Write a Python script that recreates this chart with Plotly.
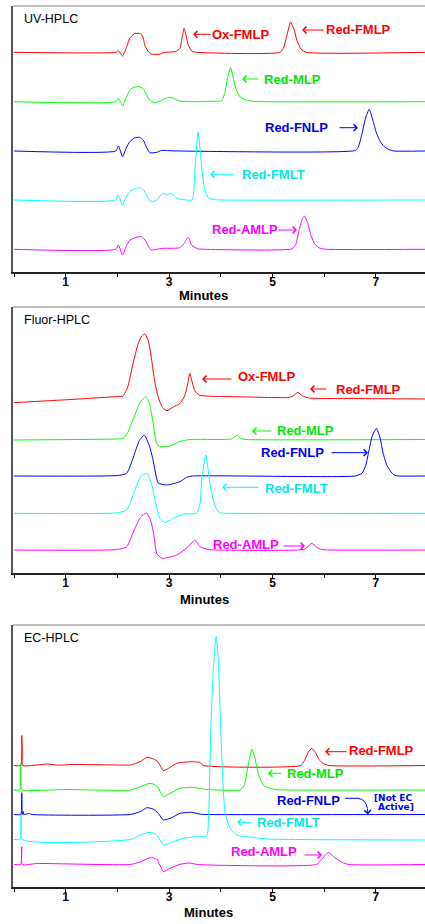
import plotly.graph_objects as go

W, H = 425, 924

# ---------------- data (time in minutes, signal above each trace's own baseline, arb. units) ----------------
TRACE_NAMES = ["Red-FMLP", "Red-MLP", "Red-FNLP", "Red-FMLT", "Red-AMLP"]

# UV-HPLC
UV_RED_T = [0.00, 1.97, 2.02, 2.10, 2.17, 2.24, 2.32, 2.40, 2.46, 2.50, 2.53, 2.59, 2.65, 2.82, 2.90, 3.02, 3.13, 3.21, 3.25, 3.29, 3.33, 3.37, 3.44, 3.54, 5.15, 5.22, 5.28, 5.35, 5.42, 5.47, 5.55, 5.65, 7.95]
UV_RED_S = [0, 0, 1.6, -3.7, 4.3, 14, 18.3, 19, 18.3, 14.3, 7.3, 1.3, -1.7, -2, -0.2, 0.3, 0.8, 4, 14.3, 24, 16.3, 7.3, 1.3, 0, 0, 5.3, 17.3, 30.3, 22.3, 12.3, 3.3, 0, 0]
UV_GREEN_T = [0.00, 1.97, 2.02, 2.10, 2.17, 2.24, 2.32, 2.42, 2.50, 2.55, 2.62, 2.72, 2.80, 2.92, 3.02, 3.12, 3.21, 3.50, 3.75, 3.96, 4.02, 4.08, 4.13, 4.19, 4.25, 4.30, 4.37, 4.50, 4.65, 7.95]
UV_GREEN_S = [0, 0, 3.4, -4.3, 4, 11.7, 14.5, 15, 13, 8, 1.7, -1, 0, 3, 4.4, 2.5, 0.5, 0, 0.3, 0.5, 1, 9, 24, 34, 22, 12, 5, 1.5, 0.3, 0]
UV_BLUE_T = [0.00, 1.97, 2.02, 2.10, 2.17, 2.24, 2.33, 2.43, 2.50, 2.56, 2.63, 2.75, 2.85, 3.00, 3.20, 6.60, 6.66, 6.73, 6.80, 6.87, 6.94, 7.01, 7.08, 7.16, 7.25, 7.35, 7.95]
UV_BLUE_S = [0, 0, 5, -5.7, 3, 9.3, 13, 13.7, 11, 4, -1.7, -1.5, 0.5, 0.3, 0, 0.5, 4, 17, 33, 41.7, 31, 18, 10, 4.5, 1.5, 0, 0]
UV_CYAN_T = [0.00, 1.97, 2.02, 2.10, 2.17, 2.24, 2.35, 2.45, 2.52, 2.58, 2.65, 2.75, 2.84, 2.89, 2.95, 3.02, 3.10, 3.20, 3.44, 3.47, 3.50, 3.56, 3.60, 3.63, 3.69, 3.75, 3.85, 4.00, 7.95]
UV_CYAN_S = [0, 0, 5, -5, 3, 8.5, 11.5, 12.3, 9, 3, -1.7, -0.5, 5, 6.7, 5, 6.7, 4, 1, 0, 5, 30, 68.3, 50, 33, 10, 3, 0.5, 0, 0]
UV_MAGENTA_T = [0.00, 1.97, 2.02, 2.10, 2.17, 2.24, 2.36, 2.47, 2.55, 2.65, 2.80, 2.90, 3.05, 3.20, 3.28, 3.37, 3.44, 3.55, 3.70, 5.38, 5.45, 5.52, 5.58, 5.62, 5.68, 5.75, 5.82, 5.92, 6.05, 7.95]
UV_MAGENTA_S = [0, 0, 4.3, -5.7, 3, 9, 12, 12.6, 8, -0.7, 0.5, 1, 1, 1.5, 5, 12, 4, 0.5, 0, 0.5, 5, 20, 31, 33.3, 26, 13, 5, 1, 0, 0]

# Fluor-HPLC
FL_RED_T = [0.00, 0.50, 1.00, 1.50, 2.00, 2.11, 2.20, 2.30, 2.40, 2.47, 2.53, 2.60, 2.66, 2.72, 2.80, 2.88, 2.96, 3.08, 3.21, 3.30, 3.36, 3.40, 3.45, 3.50, 3.58, 3.70, 4.00, 4.50, 5.30, 5.40, 5.49, 5.58, 5.70, 6.50, 7.95]
FL_RED_S = [-3.7, -2.2, -0.8, 0.8, 2.5, 3, 12, 35, 55, 63, 65, 58, 40, 18, 0, -9, -11.7, -8, -4.5, 3, 15, 25.7, 16, 8, 4, 3, 2.5, 2, 1.5, 3, 6.7, 3, 1, 0.5, 0]
FL_GREEN_T = [0.00, 2.00, 2.11, 2.20, 2.31, 2.44, 2.55, 2.62, 2.68, 2.76, 2.82, 3.02, 3.21, 3.40, 4.20, 4.27, 4.32, 4.38, 4.50, 7.95]
FL_GREEN_S = [-0.5, 0.5, 1, 7, 21, 37, 43, 36, 20, -4, -7, -6.5, -2, 0, 0.5, 3, 4.5, 1, 0, 0]
FL_BLUE_T = [0.00, 2.00, 2.18, 2.31, 2.42, 2.52, 2.62, 2.69, 2.79, 2.95, 3.21, 3.34, 3.45, 6.60, 6.73, 6.80, 6.86, 6.93, 7.01, 7.08, 7.14, 7.21, 7.28, 7.35, 7.45, 7.95]
FL_BLUE_S = [0, 0.5, 2.7, 19, 35, 41, 30, 16, -7, -9, -5.7, -1.3, 0, 0, 2.7, 10, 24, 40, 47.7, 38, 22.7, 11, 5, 1, 0, 0]
FL_CYAN_T = [0.00, 2.00, 2.18, 2.34, 2.45, 2.57, 2.66, 2.70, 2.82, 2.92, 3.08, 3.28, 3.53, 3.60, 3.63, 3.71, 3.79, 3.89, 3.98, 4.20, 7.95]
FL_CYAN_S = [0, 0.5, 3.3, 23.3, 37, 40, 30, 20, -5, -9.4, -5, -0.7, 0, 10, 33.3, 58.3, 30, 6.6, 0.6, 0, 0]
FL_MAGENTA_T = [0.00, 2.00, 2.18, 2.34, 2.45, 2.56, 2.64, 2.70, 2.76, 2.86, 3.15, 3.37, 3.50, 3.60, 3.75, 3.90, 5.60, 5.68, 5.76, 5.85, 5.95, 6.10, 7.95]
FL_MAGENTA_S = [0, 0.5, 3.3, 21.7, 33, 37, 30, 16.7, -3.3, -8.3, -5, 3.3, 10, 3.3, 0.5, 0, 0.5, 3, 6.7, 3, 0.5, 0, 0]

# EC-HPLC
EC_RED_T = [0.00, 0.13, 0.15, 0.16, 0.17, 0.63, 0.86, 1.10, 2.00, 2.25, 2.44, 2.57, 2.70, 2.78, 2.89, 2.99, 3.15, 3.40, 3.60, 3.66, 5.55, 5.62, 5.69, 5.76, 5.83, 5.90, 5.98, 6.10, 7.95]
EC_RED_S = [0, 0, 30, 12, 0, 1.5, 0.3, 1, 0.5, 0.5, 3.8, 8.2, 6.5, 4, -5.2, -2.8, 2.2, 3.8, 3, 0, 0, 5, 13, 17.2, 13, 6, 2, 0, 0]
EC_GREEN_T = [0.00, 0.11, 0.13, 0.14, 0.16, 1.00, 2.25, 2.44, 2.63, 2.76, 2.89, 3.02, 3.21, 3.47, 3.63, 4.37, 4.45, 4.53, 4.60, 4.66, 4.72, 4.82, 4.95, 5.10, 5.30, 7.95]
EC_GREEN_S = [0, 0, 26, 3, 0, 0.5, 0, 3.3, 6.7, 4.3, -6.7, -3.3, 1.7, 2.7, 1, 0, 4, 25, 40.7, 32, 17, 5, 1.7, 0.3, 0, 0]
EC_BLUE_T = [0.00, 0.13, 0.15, 0.16, 0.18, 0.19, 0.20, 0.30, 0.35, 2.25, 2.44, 2.57, 2.69, 2.79, 2.89, 3.05, 3.21, 3.44, 3.60, 3.70, 7.95]
EC_BLUE_S = [0, 0, 21.8, 0, 3, 0, 0, 1, 0, 0, 2.8, 6.8, 5.5, 1.2, -5.5, -3.2, 1.2, 2.2, 0.3, 0, 0]
EC_CYAN_T = [0.00, 0.12, 0.14, 0.16, 2.25, 2.44, 2.63, 2.76, 2.89, 3.08, 3.27, 3.53, 3.73, 3.76, 3.81, 3.86, 3.91, 3.95, 3.99, 4.02, 4.08, 4.18, 4.31, 4.56, 4.90, 7.95]
EC_CYAN_S = [0, 0, 25, 0, 0, 4.5, 7.2, 4.5, -5.5, -2.2, 1.2, 2.8, 3.5, 17.8, 114.5, 175, 203, 181, 125, 81, 28, 11, 4.5, 2.5, 0.5, -0.5]
EC_MAGENTA_T = [0.00, 0.13, 0.15, 0.16, 0.44, 2.25, 2.44, 2.63, 2.76, 2.89, 3.02, 3.21, 3.40, 3.55, 5.85, 5.95, 6.08, 6.20, 6.35, 6.48, 7.95]
EC_MAGENTA_S = [0, 0, 17.8, 0, 1, 0, 2.5, 6.8, 5.5, -7.2, -3.8, 0.2, 1.5, 0, 0, 5, 12.2, 7, 2, 0, 0]

# stacking offsets of the five chromatograms in each panel (red, green, blue, cyan, magenta)
UV_OFFSETS = [219.7, 170.3, 121.0, 72.0, 22.7]
FL_OFFSETS = [174.0, 133.5, 97.0, 59.7, 23.0]
EC_OFFSETS = [121.5, 97.0, 72.5, 47.5, 22.5]

X_TICKS = [0, 1, 2, 3, 4, 5, 6, 7]
X_TICK_TEXT = ["", "1", "", "3", "", "5", "", "7"]

PANEL_TITLES = ["UV-HPLC", "Fluor-HPLC", "EC-HPLC"]

# ---------------- styling ----------------
LINE_COLORS = ["#ff0000", "#00ff00", "#0000ff", "#00ffff", "#ff00ff"]
TEXT_COLORS = ["#ff0000", "#00e600", "#0000ee", "#00e8e8", "#ff00ff"]
FONT = "Liberation Sans, Arial, sans-serif"

# panel pixel frames (top, bottom)
PANELS = [(6, 272), (307, 573), (625, 887)]
LEFT_PX = 13
X_RANGE = [(LEFT_PX - 14) / 51.7, (W - 14) / 51.7]


def px(x, y):
    return x / W, 1 - y / H


panel_data = [
    ([(UV_RED_T, UV_RED_S), (UV_GREEN_T, UV_GREEN_S), (UV_BLUE_T, UV_BLUE_S), (UV_CYAN_T, UV_CYAN_S), (UV_MAGENTA_T, UV_MAGENTA_S)], UV_OFFSETS),
    ([(FL_RED_T, FL_RED_S), (FL_GREEN_T, FL_GREEN_S), (FL_BLUE_T, FL_BLUE_S), (FL_CYAN_T, FL_CYAN_S), (FL_MAGENTA_T, FL_MAGENTA_S)], FL_OFFSETS),
    ([(EC_RED_T, EC_RED_S), (EC_GREEN_T, EC_GREEN_S), (EC_BLUE_T, EC_BLUE_S), (EC_CYAN_T, EC_CYAN_S), (EC_MAGENTA_T, EC_MAGENTA_S)], EC_OFFSETS),
]

fig = go.Figure()
layout = dict(
    width=W, height=H, autosize=False,
    margin=dict(l=0, r=0, t=0, b=0),
    paper_bgcolor="white", plot_bgcolor="white",
    showlegend=False,
)
shapes = []
annotations = []

for i, ((series, offsets), (top, bot)) in enumerate(zip(panel_data, PANELS)):
    k = "" if i == 0 else str(i + 1)
    for j, ((t, s), off) in enumerate(zip(series, offsets)):
        fig.add_trace(go.Scatter(
            x=t, y=[v + off for v in s], mode="lines", name=TRACE_NAMES[j],
            line=dict(color=LINE_COLORS[j], width=1, shape="spline", smoothing=0.5),
            xaxis="x" + k, yaxis="y" + k, hoverinfo="skip",
        ))
    layout["xaxis" + k] = dict(
        domain=[LEFT_PX / W, 1], anchor="y" + k, range=X_RANGE,
        tickvals=X_TICKS, ticktext=X_TICK_TEXT, ticks="outside", ticklen=3,
        tickcolor="#000", tickwidth=1, showline=True, linecolor="#222", linewidth=1.5,
        showgrid=False, zeroline=False, fixedrange=True, ticklabelstandoff=-5,
        tickfont=dict(family=FONT, size=12, color="#000", weight="bold"),
    )
    layout["yaxis" + k] = dict(
        domain=[1 - bot / H, 1 - top / H], anchor="x" + k, range=[0, bot - top],
        showline=True, linecolor="#555", linewidth=1.5, showticklabels=False,
        ticks="", showgrid=False, zeroline=False, fixedrange=True,
    )
    # top frame line
    x0, y0 = px(LEFT_PX, top)
    shapes.append(dict(type="line", xref="paper", yref="paper", x0=x0, x1=1, y0=y0, y1=y0,
                       line=dict(color="#808080", width=1)))
    # panel title
    tx, ty = px(21.5, top + 13)
    annotations.append(dict(text=PANEL_TITLES[i], x=tx, y=ty, xref="paper", yref="paper",
                            xanchor="left", yanchor="middle", showarrow=False,
                            font=dict(family=FONT, size=12.5, color="#000")))

# "Minutes" axis titles
for (mx, my) in [(203, 295), (204, 599.5), (208, 912)]:
    x, y = px(mx, my)
    annotations.append(dict(text="Minutes", x=x, y=y, xref="paper", yref="paper",
                            xanchor="center", yanchor="middle", showarrow=False,
                            font=dict(family=FONT, size=13, color="#000", weight="bold")))

# peak labels: (text, center x px, center y px, color index)
LABELS = [
    ("Ox-FMLP", 240.5, 34.3, 0), ("Red-FMLP", 358.5, 30, 0), ("Red-MLP", 292.5, 79, 1),
    ("Red-FNLP", 296, 127.7, 2), ("Red-FMLT", 273, 174.3, 3), ("Red-AMLP", 245, 229, 4),
    ("Ox-FMLP", 266.5, 376.7, 0), ("Red-FMLP", 368.5, 389, 0), ("Red-MLP", 305.5, 430.7, 1),
    ("Red-FNLP", 292.5, 452.7, 2), ("Red-FMLT", 296, 488.3, 3), ("Red-AMLP", 246.5, 544, 4),
    ("Red-FMLP", 381.5, 750, 0), ("Red-MLP", 315, 773.3, 1), ("Red-FNLP", 308.5, 800, 2),
    ("Red-FMLT", 288.5, 822.3, 3), ("Red-AMLP", 263.5, 851.7, 4),
]
for text, lx, ly, c in LABELS:
    x, y = px(lx, ly)
    annotations.append(dict(text=text, x=x, y=y, xref="paper", yref="paper",
                            xanchor="center", yanchor="middle", showarrow=False,
                            font=dict(family=FONT, size=13, color=TEXT_COLORS[c], weight="bold")))

# arrows: (tail x, tail y, head x, head y, color index)
ARROWS = [
    (212, 34.3, 193, 34.3, 0), (325, 30, 302, 30, 0), (260, 79, 242, 79, 1),
    (338, 127.7, 358, 127.7, 2), (235, 174.3, 210, 174.3, 3), (277, 230, 297, 230, 4),
    (233, 379, 202, 379, 0), (328, 389, 310, 389, 0), (273, 431, 252, 431, 1),
    (330, 452.7, 368, 452.7, 2), (260, 487.3, 222, 487.3, 3), (282, 546, 305, 546, 4),
    (348, 751.7, 325, 751.7, 0), (283, 773.3, 268, 773.3, 1),
    (253, 822.3, 237, 822.3, 3), (303, 855, 322, 855, 4),
    (367.3, 807, 368, 814.5, 2),
]
for x0p, y0p, x1p, y1p, c in ARROWS:
    x, y = px(x1p, y1p)
    annotations.append(dict(text="", x=x, y=y, xref="paper", yref="paper",
                            ax=x0p - x1p, ay=y0p - y1p, axref="pixel", ayref="pixel",
                            showarrow=True, arrowhead=4, arrowsize=1.3, arrowwidth=1,
                            arrowcolor=LINE_COLORS[c]))

# curved leader for "Red-FNLP [Not EC Active]"
pts = [(345, 798.3), (358, 798.3), (366, 799.5), (367.3, 808)]
P = [px(a, b) for a, b in pts]
path = "M {:.5f},{:.5f} L {:.5f},{:.5f} Q {:.5f},{:.5f} {:.5f},{:.5f}".format(
    P[0][0], P[0][1], P[1][0], P[1][1], P[2][0], P[2][1], P[3][0], P[3][1])
shapes.append(dict(type="path", xref="paper", yref="paper", path=path,
                   line=dict(color=LINE_COLORS[2], width=1)))

for text, rx, ry in [("[Not EC", 414, 797.7), ("Active]", 416, 807.3)]:
    x, y = px(rx, ry)
    annotations.append(dict(text=text, x=x, y=y, xref="paper", yref="paper",
                            xanchor="right", yanchor="middle", showarrow=False,
                            font=dict(family="DejaVu Sans, sans-serif", size=9,
                                      color=TEXT_COLORS[2], weight="bold")))

layout["shapes"] = shapes
layout["annotations"] = annotations
fig.update_layout(**layout)
fig.write_html("out.html")
